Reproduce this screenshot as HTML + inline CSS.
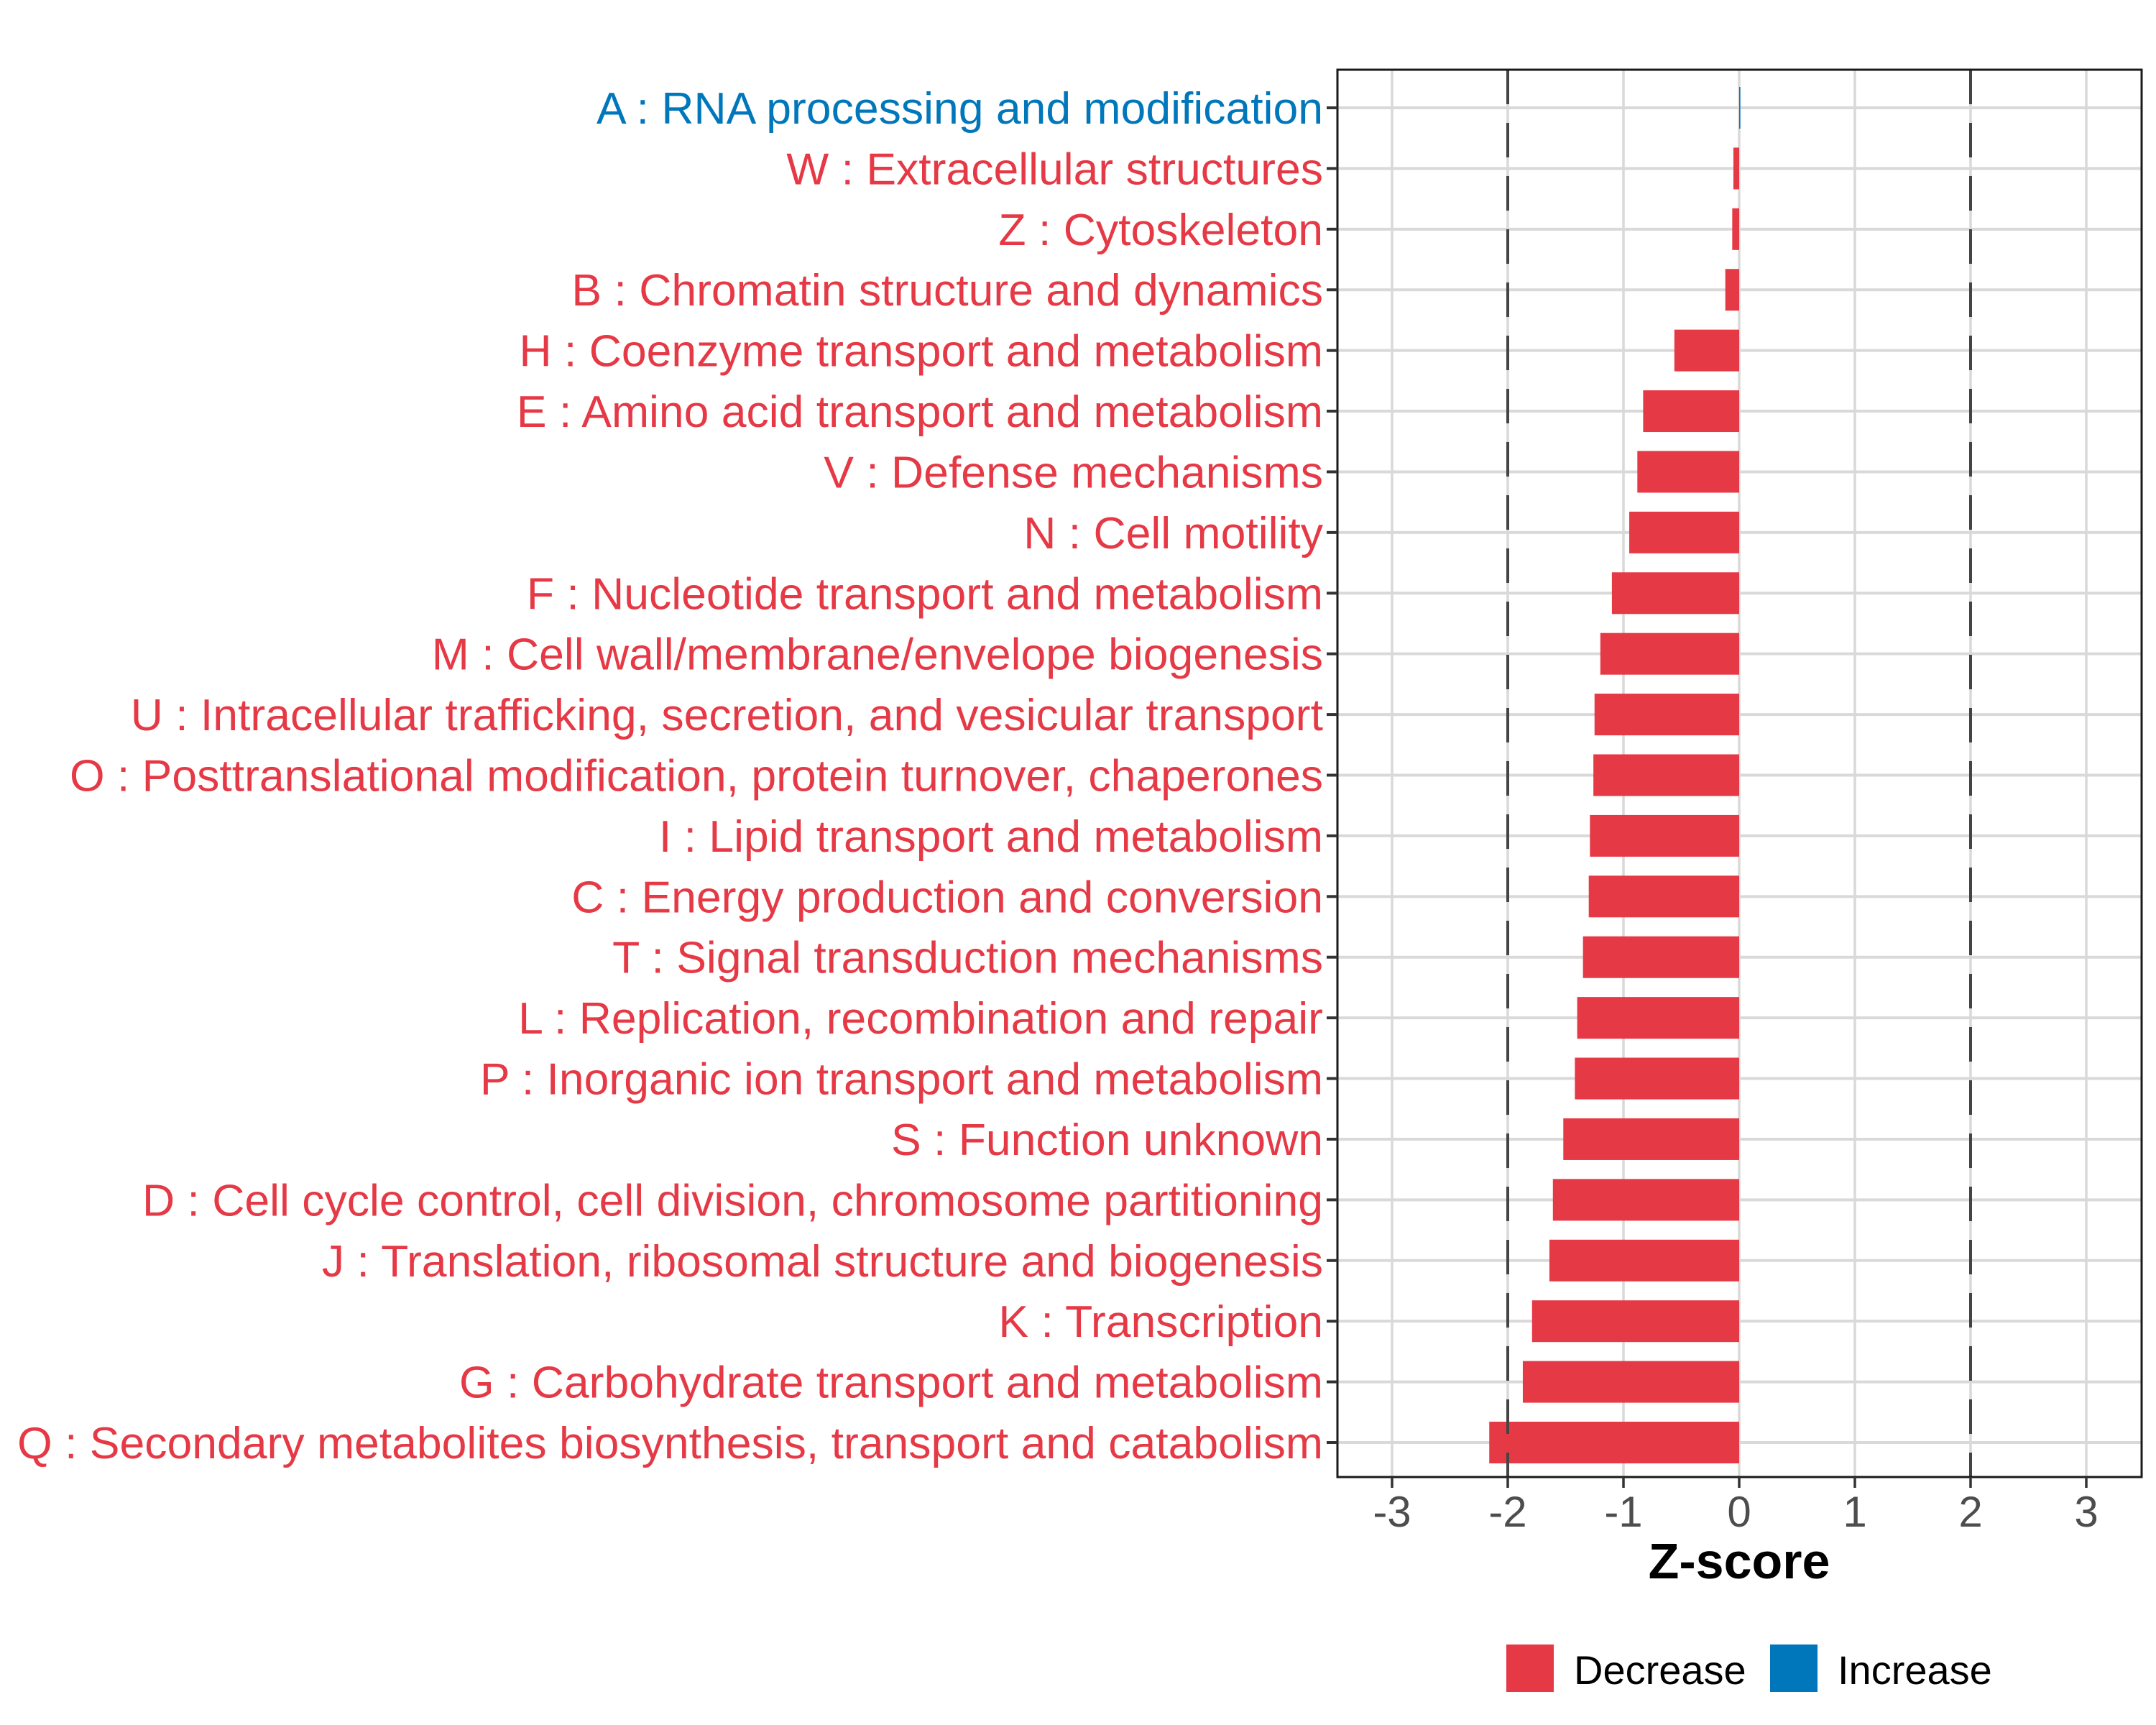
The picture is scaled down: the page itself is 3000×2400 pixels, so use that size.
<!DOCTYPE html>
<html><head><meta charset="utf-8"><style>
html,body{margin:0;padding:0;background:#fff;}
svg{display:block;font-family:"Liberation Sans",Arial,sans-serif;}
</style></head><body>
<svg id="chart" width="3000" height="2400" viewBox="0 0 3000 2400" xmlns="http://www.w3.org/2000/svg">
<rect x="0" y="0" width="3000" height="2400" fill="#fff"/>
<g id="grid"></g>
<g id="bars"></g>
<g id="refs"></g>
<rect x="1861" y="97" width="1119" height="1958" fill="none" stroke="#1a1a1a" stroke-width="3"/>
<g id="ylabels"></g>
<g id="xaxis"></g>
<text x="2420" y="2196" font-size="70" font-weight="bold" text-anchor="middle" fill="#000">Z-score</text>
<g>
<rect x="2096" y="2288" width="66" height="66" fill="#e63946"/>
<text x="2190" y="2343" font-size="56" fill="#000">Decrease</text>
<rect x="2463" y="2288" width="66" height="66" fill="#0077bb"/>
<text x="2557" y="2343" font-size="56" fill="#000">Increase</text>
</g>
</svg>
<script>
const categories = [
"A : RNA processing and modification",
"W : Extracellular structures",
"Z : Cytoskeleton",
"B : Chromatin structure and dynamics",
"H : Coenzyme transport and metabolism",
"E : Amino acid transport and metabolism",
"V : Defense mechanisms",
"N : Cell motility",
"F : Nucleotide transport and metabolism",
"M : Cell wall/membrane/envelope biogenesis",
"U : Intracellular trafficking, secretion, and vesicular transport",
"O : Posttranslational modification, protein turnover, chaperones",
"I : Lipid transport and metabolism",
"C : Energy production and conversion",
"T : Signal transduction mechanisms",
"L : Replication, recombination and repair",
"P : Inorganic ion transport and metabolism",
"S : Function unknown",
"D : Cell cycle control, cell division, chromosome partitioning",
"J : Translation, ribosomal structure and biogenesis",
"K : Transcription",
"G : Carbohydrate transport and metabolism",
"Q : Secondary metabolites biosynthesis, transport and catabolism"
];
const zscores = [0.01,-0.05,-0.06,-0.12,-0.56,-0.83,-0.88,-0.95,-1.10,-1.20,-1.25,-1.26,-1.29,-1.30,-1.35,-1.40,-1.42,-1.52,-1.61,-1.64,-1.79,-1.87,-2.16];
const xTicks = [-3,-2,-1,0,1,2,3];
const refLines = [-2,2];

const NS="http://www.w3.org/2000/svg";
const x0=2420, unit=161;
function xs(v){return x0+v*unit;}
const yTop=150, yStep=(2007-150)/22;
function ys(i){return yTop+i*yStep;}
function mk(tag,attrs,parent){const e=document.createElementNS(NS,tag);for(const k in attrs)e.setAttribute(k,attrs[k]);parent.appendChild(e);return e;}
const grid=document.getElementById('grid'),bars=document.getElementById('bars'),refs=document.getElementById('refs'),yl=document.getElementById('ylabels'),xa=document.getElementById('xaxis');
xTicks.forEach(t=>{
  const g=mk('line',{x1:xs(t),x2:xs(t),y1:97,y2:2055,stroke:'#d9d9d9','stroke-width':3.5},grid);
  
  
  const tk=mk('line',{x1:xs(t),x2:xs(t),y1:2055,y2:2070,stroke:'#333','stroke-width':3.5},xa);
  
  
  const tl=mk('text',{x:xs(t),y:2124,'font-size':60,'text-anchor':'middle',fill:'#4d4d4d'},xa);
  tl.textContent=String(t);
  
  
});
categories.forEach((c,i)=>{
  const g=mk('line',{x1:1861,x2:2980,y1:ys(i),y2:ys(i),stroke:'#d9d9d9','stroke-width':4},grid);
  
  
  const tk=mk('line',{x1:1846,x2:1861,y1:ys(i),y2:ys(i),stroke:'#333','stroke-width':4},yl);
  
  
  const v=zscores[i];
  const col=v>=0?'#0077bb':'#e63946';
  const l=Math.min(xs(0),xs(v)), w=Math.max(Math.abs(xs(v)-xs(0)),1.5);
  const b=mk('rect',{x:l,y:ys(i)-29,width:w,height:58,fill:col},bars);
  
  
  const t=mk('text',{x:1841,y:ys(i)+22,'font-size':62.5,'text-anchor':'end',fill:col},yl);
  t.textContent=c;
  
  
});
refLines.forEach(r=>{
  const l=mk('line',{x1:xs(r),x2:xs(r),y1:97,y2:2055,stroke:'#444','stroke-width':4,'stroke-dasharray':'48 26'},refs);
  
  
});
</script>
</body></html>
